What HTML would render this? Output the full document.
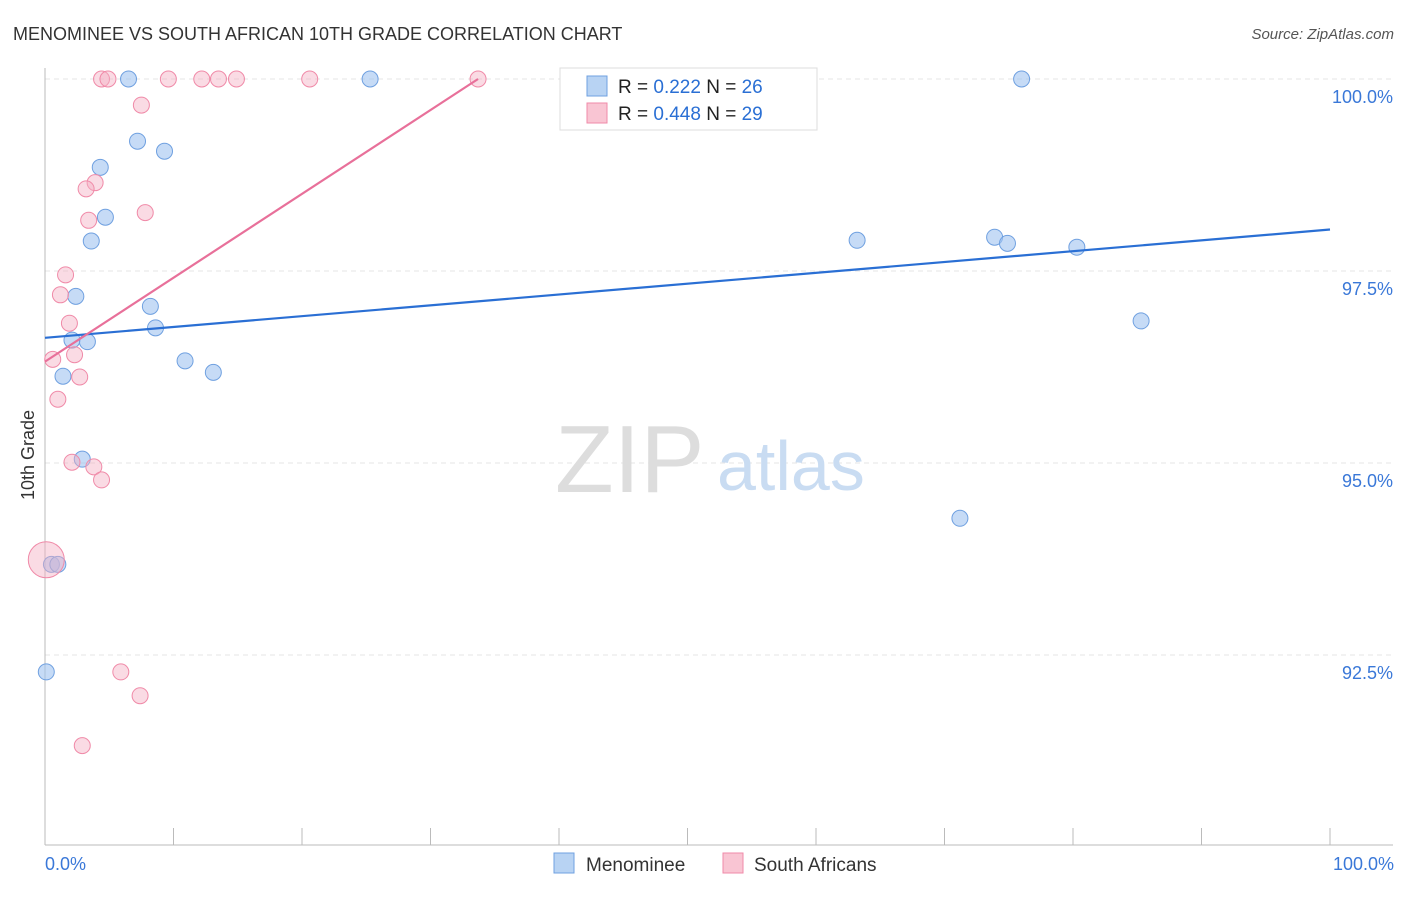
<!DOCTYPE html>
<html><head><meta charset="utf-8"><style>
body{margin:0;background:#fff;font-family:"Liberation Sans",sans-serif;}
svg text{font-family:"Liberation Sans",sans-serif;}
</style></head><body>
<svg id="chart" width="1406" height="892" viewBox="0 0 1406 892" xmlns="http://www.w3.org/2000/svg">
<text x="13" y="40" font-size="18" fill="#333">MENOMINEE VS SOUTH AFRICAN 10TH GRADE CORRELATION CHART</text>
<text x="1394" y="39" font-size="15" fill="#555" text-anchor="end" font-style="italic">Source: ZipAtlas.com</text>
<text x="34" y="455" font-size="18" fill="#333" text-anchor="middle" transform="rotate(-90 34 455)">10th Grade</text>
<g id="grid"></g>
<g id="axes"></g>
<text x="555" y="492" font-size="96" fill="#ddd" font-family="Liberation Serif">ZIP</text>
<text x="717" y="490" font-size="70" fill="#c9dcf2">atlas</text>
<g id="points"></g>
<g id="lines"></g>
<g>
<rect x="560" y="68" width="257" height="62" fill="#fff" stroke="#ddd"/>
<rect x="587" y="76" width="20" height="20" fill="#b8d3f3" stroke="#6fa0e0"/>
<text x="618" y="93" font-size="19" fill="#222">R = <tspan fill="#2a6fd4">0.222</tspan>   N = <tspan fill="#2a6fd4">26</tspan></text>
<rect x="587" y="103" width="20" height="20" fill="#f9c5d3" stroke="#f08aa8"/>
<text x="618" y="120" font-size="19" fill="#222">R = <tspan fill="#2a6fd4">0.448</tspan>   N = <tspan fill="#2a6fd4">29</tspan></text>
</g>
<g>
<rect x="554" y="853" width="20" height="20" fill="#b8d3f3" stroke="#6fa0e0"/>
<text x="586" y="871" font-size="19" fill="#333">Menominee</text>
<rect x="723" y="853" width="20" height="20" fill="#f9c5d3" stroke="#f08aa8"/>
<text x="754" y="871" font-size="19" fill="#333">South Africans</text>
</g>
<text x="45" y="870" font-size="18" fill="#3a78d8">0.0%</text>
<text x="1394" y="870" font-size="18" fill="#3a78d8" text-anchor="end">100.0%</text>
</svg>
<script>
const blueX=[6.5,25.3,76.0,7.2,9.3,4.3,4.7,3.6,2.4,8.2,8.6,2.1,3.3,1.4,10.9,13.1,2.9,0.5,1.0,0.1,63.2,73.9,74.9,80.3,85.3,71.2];
const blueY=[100,100,100,99.19,99.06,98.85,98.20,97.89,97.17,97.04,96.76,96.60,96.58,96.13,96.33,96.18,95.05,93.68,93.68,92.28,97.90,97.94,97.86,97.81,96.85,94.28];
const pinkX=[4.4,4.9,9.6,12.2,13.5,14.9,20.6,33.7,54.6,7.5,3.9,3.2,3.4,7.8,1.6,1.2,1.9,0.6,2.3,2.7,1.0,2.1,3.8,4.4,0.1,5.9,7.4,2.9];
const pinkY=[100,100,100,100,100,100,100,100,100,99.66,98.65,98.57,98.16,98.26,97.45,97.19,96.82,96.35,96.41,96.12,95.83,95.01,94.95,94.78,93.74,92.28,91.97,91.32];
const blueLine=[[0,96.63],[100,98.04]];
const pinkLine=[[0,96.32],[33.7,100]];
const yTicks=[100,97.5,95,92.5];
const yTickLabels=["100.0%","97.5%","95.0%","92.5%"];
const NS="http://www.w3.org/2000/svg";
const sx=v=>45+v*12.85;
const sy=v=>79+(100-v)*76.8;
function mk(t,a,p){const e=document.createElementNS(NS,t);for(const k in a)e.setAttribute(k,a[k]);p.appendChild(e);return e;}
const grid=document.getElementById('grid'),axes=document.getElementById('axes'),pts=document.getElementById('points'),lines=document.getElementById('lines');
yTicks.forEach((t,i)=>{
 const l=mk('line',{x1:45,x2:1393,y1:sy(t),y2:sy(t),stroke:'#e4e4e4','stroke-dasharray':'5,4'},grid);
 
 
 const tx=mk('text',{x:1393,y:sy(t)+24,'font-size':18,fill:'#3a78d8','text-anchor':'end'},grid);
 tx.textContent=yTickLabels[i];
 
 
});
mk('line',{x1:45,x2:45,y1:68,y2:845,stroke:'#bbb'},axes);
mk('line',{x1:45,x2:1393,y1:845,y2:845,stroke:'#bbb'},axes);
for(let i=0;i<=10;i++){const t=mk('line',{x1:sx(i*10),x2:sx(i*10),y1:828,y2:845,stroke:'#bbb'},axes);
 
 }
blueX.forEach((x,i)=>{const c=mk('circle',{cx:sx(x),cy:sy(blueY[i]),r:8,fill:'rgba(160,195,240,0.6)',stroke:'#6fa0e0','stroke-width':1},pts);
 
 });
pinkX.forEach((x,i)=>{const c=mk('circle',{cx:sx(x),cy:sy(pinkY[i]),r:(i==24?18:8),fill:'rgba(245,175,195,0.45)',stroke:'#f08aa8','stroke-width':1},pts);
 
 });
const bl=mk('line',{x1:sx(blueLine[0][0]),y1:sy(blueLine[0][1]),x2:sx(blueLine[1][0]),y2:sy(blueLine[1][1]),stroke:'#2a6fd4','stroke-width':2.2},lines);


const pl=mk('line',{x1:sx(pinkLine[0][0]),y1:sy(pinkLine[0][1]),x2:sx(pinkLine[1][0]),y2:sy(pinkLine[1][1]),stroke:'#e8709a','stroke-width':2.2},lines);


</script>
</body></html>
